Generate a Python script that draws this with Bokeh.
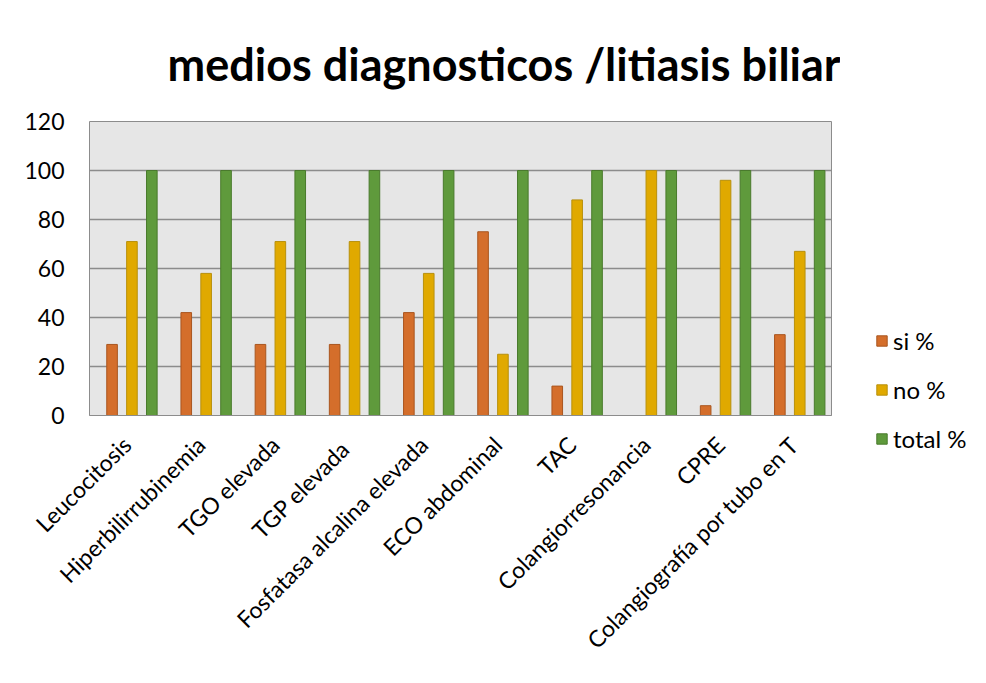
import math
from bokeh.plotting import figure
from bokeh.layouts import row, column
from bokeh.models import ColumnDataSource, FactorRange, Legend, LegendItem, SingleIntervalTicker, Range1d
from bokeh.transform import dodge
from bokeh.embed import file_html
from bokeh.resources import INLINE

categories = ["Leucocitosis", "Hiperbilirrubinemia", "TGO elevada", "TGP  elevada",
              "Fosfatasa alcalina elevada", "ECO abdominal", "TAC", "Colangiorresonancia",
              "CPRE", "Colangiografía por tubo en T"]
si_pct = [29, 42, 29, 29, 42, 75, 12, 0, 4, 33]
no_pct = [71, 58, 71, 71, 58, 25, 88, 100, 96, 67]
total_pct = [100, 100, 100, 100, 100, 100, 100, 100, 100, 100]
series_names = ["si %", "no %", "total %"]

src = ColumnDataSource(dict(cat=categories, si=si_pct, no=no_pct, total=total_pct))

FONT = "Lato"
p = figure(x_range=FactorRange(*categories, range_padding=0), y_range=(0, 120),
           frame_width=742, frame_height=294, output_backend="svg", toolbar_location=None,
           min_border_left=89, min_border_right=9, min_border_top=121, min_border_bottom=268)

p.background_fill_color = "#e6e6e6"
p.border_fill_color = "white"
p.outline_line_color = "#8c8c8c"
p.outline_line_width = 1

fills = ["#d46e2b", "#e0a900", "#5f9a3c"]
lines = ["#a9561f", "#b8900c", "#497a2c"]
offsets = [-0.196, 0.072, 0.34]
cols = ["si", "no", "total"]
for c, o, f, l in zip(cols, offsets, fills, lines):
    p.vbar(x=dodge("cat", o, range=p.x_range), top=c, width=0.143, source=src,
           fill_color=f, line_color=l, line_width=1)

p.yaxis.ticker = SingleIntervalTicker(interval=20)
p.yaxis.major_label_text_font = FONT
p.yaxis.major_label_text_font_size = "23px"
p.yaxis.major_label_text_color = "black"
p.yaxis.major_label_standoff = 19
p.yaxis.axis_line_color = None
p.yaxis.major_tick_line_color = None
p.yaxis.minor_tick_line_color = None

p.xaxis.major_label_orientation = math.pi / 4
p.xaxis.major_label_text_font = FONT
p.xaxis.major_label_text_font_size = "23px"
p.xaxis.major_label_text_color = "black"
p.xaxis.major_label_standoff = 19
p.xaxis.axis_line_color = "#8c8c8c"
p.xaxis.major_tick_line_color = None
p.xaxis.minor_tick_line_color = None

p.xgrid.grid_line_color = None
p.ygrid.grid_line_color = "#8c8c8c"
p.ygrid.grid_line_width = 1.3

p.title.text = "medios diagnosticos /litiasis biliar"
p.title.text_font = FONT
p.title.text_font_size = "45px"
p.title.text_font_style = "bold"
p.title.text_color = "black"
p.title.align = "left"
p.title.offset = 78
p.title.standoff = 62

# legend panel (separate figure on the right, frame fills the whole figure)
pl = figure(width=146, height=683, output_backend="svg", toolbar_location=None,
            x_range=Range1d(0, 1), y_range=Range1d(0, 1),
            x_axis_location=None, y_axis_location=None,
            min_border_left=0, min_border_right=0, min_border_top=0, min_border_bottom=0)
pl.outline_line_color = None
pl.xgrid.grid_line_color = None
pl.ygrid.grid_line_color = None
pl.background_fill_color = "white"
pl.border_fill_color = "white"
leg_renderers = []
for f, l in zip(fills, lines):
    leg_renderers.append(pl.vbar(x=[10], top=[1], width=0.1, fill_color=f, line_color=l, line_width=1))

legend = Legend(items=[LegendItem(label=n, renderers=[r]) for n, r in zip(series_names, leg_renderers)],
                location=(35, 230), orientation="vertical")
legend.label_text_font = FONT
legend.label_text_font_size = "24px"
legend.label_text_color = "black"
legend.glyph_width = 13
legend.glyph_height = 13
legend.spacing = 20
legend.label_height = 24
legend.label_standoff = 5
legend.background_fill_alpha = 0
legend.border_line_color = None
legend.padding = 0
legend.margin = 0
pl.add_layout(legend, "center")

layout = row(p, column(pl), spacing=0)
open("out.html", "w").write(file_html(layout, INLINE))
